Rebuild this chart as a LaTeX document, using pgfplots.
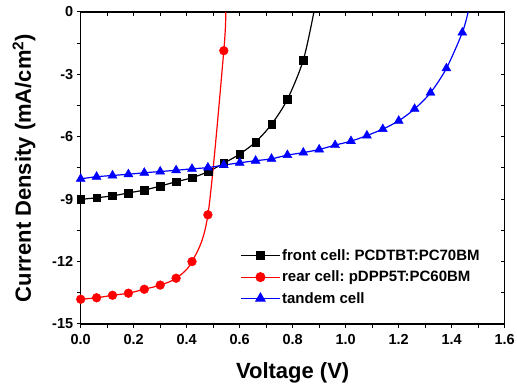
\documentclass[border=0pt]{standalone}
\usepackage{pgfplots}
\pgfplotsset{compat=1.18}
\usepackage{pgfplotstable}
\usepackage{fontspec}
\setmainfont{Liberation Sans}
\frenchspacing
\pgfplotstableread{
x y
0.00 -9.01
0.06 -8.93
0.12 -8.84
0.18 -8.70
0.24 -8.56
0.30 -8.37
0.36 -8.16
0.42 -7.97
0.48 -7.68
0.54 -7.27
0.60 -6.83
0.66 -6.25
0.72 -5.40
0.78 -4.20
0.84 -2.31
0.88 0.00
}\front
\pgfplotstableread{
x y
0.00 -13.81
0.06 -13.74
0.12 -13.62
0.18 -13.52
0.24 -13.33
0.30 -13.13
0.36 -12.80
0.42 -12.00
0.48 -9.75
0.54 -1.86
0.547 0.00
}\rear
\pgfplotstableread{
x y
0.00 -8.02
0.06 -7.92
0.12 -7.86
0.18 -7.80
0.24 -7.73
0.30 -7.67
0.36 -7.61
0.42 -7.54
0.48 -7.48
0.54 -7.36
0.60 -7.25
0.66 -7.15
0.72 -7.06
0.78 -6.88
0.84 -6.76
0.90 -6.61
0.96 -6.40
1.02 -6.21
1.08 -5.94
1.14 -5.63
1.20 -5.23
1.26 -4.66
1.32 -3.88
1.38 -2.71
1.44 -0.99
1.462 0.00
}\tandem
\begin{document}
\begin{tikzpicture}
\useasboundingbox (-80.7pt,-63pt) rectangle (436.3pt,324pt);
\pgfplotsset{
  common/.style={
    width=424pt, height=312pt, scale only axis,
    at={(0,0)}, anchor=south west,
    xmin=0, xmax=1.6, ymin=-15, ymax=0,
    xtick={0,0.2,0.4,0.6,0.8,1.0,1.2,1.4,1.6},
    ytick={-15,-12,-9,-6,-3,0},
    minor x tick num=1, minor y tick num=1,
    major tick length=4pt, minor tick length=4pt,
    axis line style={line width=1.1pt},
    every tick/.style={line width=1pt, black},
  }
}
\begin{axis}[common, xtick pos=right, ytick pos=right, tick align=inside,
  xticklabels={}, yticklabels={}]
\end{axis}
\begin{axis}[common, xtick pos=left, ytick pos=left, tick align=outside,
  /pgf/number format/assume math mode=true,
  tick label style={font=\bfseries\fontsize{14.5}{16}\selectfont},
  x tick label style={yshift=-3pt, /pgf/number format/.cd, fixed, fixed zerofill, precision=1, assume math mode=true, /tikz/.cd},
  xlabel={Voltage (V)},
  xlabel style={yshift=-11pt},
  ylabel={Current Density (mA/cm\textsuperscript{2})},
  ylabel style={yshift=10pt},
  label style={font=\bfseries\fontsize{22}{24}\selectfont},
  legend style={at={(0.37,0.252)}, anchor=north west, draw=none, fill=none,
    font=\bfseries\fontsize{15}{17}\selectfont, row sep=5pt},
  legend cell align=left,
  legend image code/.code={\draw[mark repeat=2,mark phase=2,#1] plot coordinates {(0cm,0cm) (0.67cm,0cm) (1.34cm,0cm)};},
]
\addplot[black, line width=1.2pt, smooth, forget plot] table {\front};
\addplot[black, only marks, mark=square*, mark size=3.8pt, forget plot, skip coords between index={15}{16}] table {\front};
\addplot[red, line width=1.2pt, smooth, forget plot] table {\rear};
\addplot[red, only marks, mark=*, mark size=4.4pt, forget plot, skip coords between index={10}{11}] table {\rear};
\addplot[blue, line width=1.2pt, smooth, forget plot] table {\tandem};
\addplot[blue, only marks, mark=triangle*, mark size=5.2pt, forget plot, skip coords between index={25}{26}] table {\tandem};
\addlegendimage{black, line width=1.2pt, mark=square*, mark size=3.8pt}
\addlegendentry{front cell: PCDTBT:PC70BM}
\addlegendimage{red, line width=1.2pt, mark=*, mark size=4.4pt}
\addlegendentry{rear cell: pDPP5T:PC60BM}
\addlegendimage{blue, line width=1.2pt, mark=triangle*, mark size=5.2pt}
\addlegendentry{tandem cell}
\end{axis}
\end{tikzpicture}
\end{document}
